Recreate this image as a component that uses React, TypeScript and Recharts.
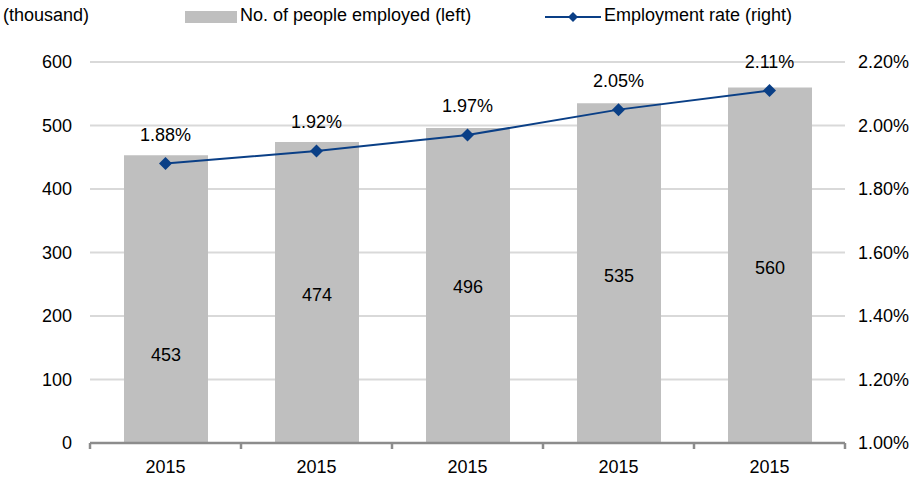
import React from 'react';
import {
  ComposedChart,
  Bar,
  Line,
  XAxis,
  YAxis,
  CartesianGrid,
  Legend,
  LabelList
} from 'recharts';

// Chart values
const years = ['2015', '2015', '2015', '2015', '2015'];
const employed = [453, 474, 496, 535, 560];
const rate = [1.88, 1.92, 1.97, 2.05, 2.11];
// where each bar's value label sits (in thousand, left axis units)
const labelAt = [139, 233, 246, 263, 276];

const leftTicks = [0, 100, 200, 300, 400, 500, 600];
const rightTicks = [1.0, 1.2, 1.4, 1.6, 1.8, 2.0, 2.2];

const FONT = '"Liberation Sans", Arial, sans-serif';
const BAR_COLOR = '#BFBFBF';
const LINE_COLOR = '#0A3F86';
const AXIS_COLOR = '#8C8C8C';

const data = years.map((year, i) => ({
  year,
  employed: employed[i],
  rate: rate[i]
}));

const Diamond = ({ cx, cy }: any) => {
  if (cx == null || cy == null) return null;
  const r = 6.5;
  return (
    <polygon
      points={`${cx},${cy - r} ${cx + r},${cy} ${cx},${cy + r} ${cx - r},${cy}`}
      fill={LINE_COLOR}
    />
  );
};

// x tick: label under the bar + small separator ticks at category edges
const XTick = ({ x, y, payload, index, visibleTicksCount }: any) => {
  const band = 151;
  const last = index === (visibleTicksCount ?? years.length) - 1;
  const top = 443;
  return (
    <g>
      <line x1={x - band / 2} x2={x - band / 2} y1={top} y2={top + 6} stroke={AXIS_COLOR} strokeWidth={2.5} />
      {last && (
        <line x1={x + band / 2} x2={x + band / 2} y1={top} y2={top + 6} stroke={AXIS_COLOR} strokeWidth={2.5} />
      )}
      <text x={x} y={top + 24} textAnchor="middle" dominantBaseline="central" fill="#000" fontSize={18} fontFamily={FONT}>
        {payload.value}
      </text>
    </g>
  );
};

const BarValue = ({ x, y, width, height, index, value }: any) => {
  const bottom = y + height;
  const ly = bottom - (height * labelAt[index]) / value;
  return (
    <text x={x + width / 2} y={ly} textAnchor="middle" dominantBaseline="central" fill="#000" fontSize={18} fontFamily={FONT}>
      {value}
    </text>
  );
};

const LegendContent = () => (
  <div style={{ position: 'relative', width: 913, height: 34, fontFamily: FONT, fontSize: 18, color: '#000' }}>
    <span style={{ position: 'absolute', left: 3, top: 5 }}>(thousand)</span>
    <span style={{ position: 'absolute', left: 185, top: 11, width: 52, height: 12, background: BAR_COLOR }} />
    <span style={{ position: 'absolute', left: 240, top: 5 }}>No. of people employed (left)</span>
    <svg style={{ position: 'absolute', left: 545, top: 8 }} width={56} height={18}>
      <line x1={0} x2={56} y1={9} y2={9} stroke={LINE_COLOR} strokeWidth={2} />
      <polygon points="28,4 33,9 28,14 23,9" fill={LINE_COLOR} />
    </svg>
    <span style={{ position: 'absolute', left: 604, top: 5 }}>Employment rate (right)</span>
  </div>
);

export default function App() {
  return (
    <div style={{ position: 'absolute', left: 0, top: 0, background: '#fff' }}>
      <ComposedChart
        width={913}
        height={481}
        data={data}
        margin={{ top: 28, right: 0, bottom: 0, left: 0 }}
        barCategoryGap={67}
      >
        <CartesianGrid vertical={false} stroke="#D9D9D9" strokeWidth={2} yAxisId="left" />
        <XAxis
          dataKey="year"
          height={38}
          tick={<XTick />}
          tickLine={false}
          axisLine={{ stroke: AXIS_COLOR, strokeWidth: 2.5 }}
        />
        <YAxis
          yAxisId="left"
          width={90}
          domain={[0, 600]}
          ticks={leftTicks}
          axisLine={false}
          tickLine={false}
          tickMargin={12}
          tick={{ fill: '#000', fontSize: 18, fontFamily: FONT }}
        />
        <YAxis
          yAxisId="right"
          orientation="right"
          width={68}
          domain={[1.0, 2.2]}
          ticks={rightTicks}
          axisLine={false}
          tickLine={false}
          tickMargin={7}
          tickFormatter={(v: number) => v.toFixed(2) + '%'}
          tick={{ fill: '#000', fontSize: 18, fontFamily: FONT }}
        />
        <Legend verticalAlign="top" content={<LegendContent />} wrapperStyle={{ top: 0, left: 0 }} />
        <Bar yAxisId="left" dataKey="employed" fill={BAR_COLOR} barSize={84} isAnimationActive={false}>
          <LabelList dataKey="employed" content={<BarValue />} />
        </Bar>
        <Line
          yAxisId="right"
          dataKey="rate"
          stroke={LINE_COLOR}
          strokeWidth={2}
          dot={<Diamond />}
          activeDot={false}
          isAnimationActive={false}
        >
          <LabelList
            dataKey="rate"
            position="top"
            offset={23}
            formatter={(v: any) => Number(v).toFixed(2) + '%'}
            style={{ fill: '#000', fontSize: 18, fontFamily: FONT }}
          />
        </Line>
      </ComposedChart>
    </div>
  );
}
